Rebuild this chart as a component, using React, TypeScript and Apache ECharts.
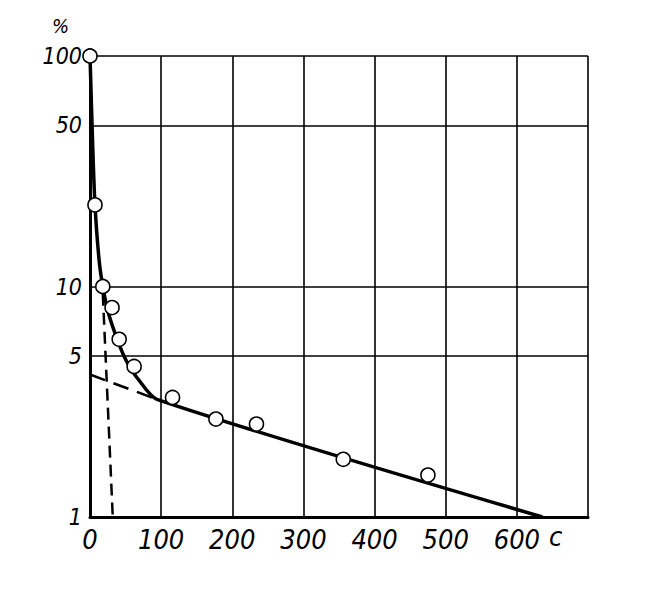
import React, { useEffect, useRef } from "react";
import * as echarts from "echarts";

// measured points (circles)
const pointX = [0, 7, 18, 31, 41, 62, 116, 177, 234, 356, 475];
const pointY = [100, 22.6, 10, 8.1, 5.9, 4.5, 3.3, 2.66, 2.53, 1.78, 1.52];

// solid fitted curve
const curveX = [0, 4, 7, 12.7, 18, 25.7, 42, 52, 68, 94, 636];
const curveY = [100, 39, 22.6, 13.1, 10, 7.7, 5.5, 4.7, 3.95, 3.24, 1];

// dashed fast component
const fastX = [18, 32];
const fastY = [9.3, 1];

// dashed extrapolation of slow component
const slowX = [0, 94];
const slowY = [4.15, 3.24];

// extra horizontal grid levels (besides 1, 10, 100)
const extraLevels = [5, 50];

const xMin = 0;
const xMax = 700;
const xStep = 100;
const yMin = 1;
const yMax = 100;
const xUnit = "c";
const yUnit = "%";

const FONT = '"Liberation Sans Narrow", "DejaVu Sans Condensed", "Liberation Sans", sans-serif';

const zip = (xs: number[], ys: number[]) => xs.map((x, i) => [x, ys[i]]);

export default function App() {
  const ref = useRef<HTMLDivElement>(null);
  useEffect(() => {
    if (!ref.current) return;
    const chart = echarts.init(ref.current, null, { renderer: "svg" });
    chart.setOption({
      animation: false,
      backgroundColor: "#ffffff",
      grid: { left: 90, right: 64, top: 56, bottom: 97 },
      xAxis: {
        type: "value",
        min: xMin,
        max: xMax,
        interval: xStep,
        axisLine: { show: true, lineStyle: { color: "#000", width: 3 } },
        axisTick: { show: false },
        splitLine: { show: true, lineStyle: { color: "#000", width: 1.6 } },
        axisLabel: {
          margin: 9,
          fontFamily: FONT,
          fontStyle: "italic",
          fontSize: 27,
          color: "#000",
          formatter: (v: number) => (v === xMax ? "" : String(v)),
        },
      },
      yAxis: {
        type: "log",
        logBase: 10,
        min: yMin,
        max: yMax,
        axisLine: { show: true, lineStyle: { color: "#000", width: 3 } },
        axisTick: { show: false },
        minorTick: { show: false },
        splitLine: { show: true, lineStyle: { color: "#000", width: 1.6 } },
        axisLabel: {
          margin: 8,
          fontFamily: FONT,
          fontStyle: "italic",
          fontSize: 23,
          color: "#000",
        },
      },
      graphic: [
        {
          type: "text",
          left: 52,
          top: 16,
          style: {
            text: yUnit,
            fontFamily: FONT,
            fontStyle: "italic",
            fontSize: 20,
            fill: "#000",
          },
        },
        {
          type: "text",
          left: 549,
          top: 523,
          style: {
            text: xUnit,
            fontFamily: FONT,
            fontStyle: "italic",
            fontSize: 27,
            fill: "#000",
          },
        },
      ],
      series: [
        {
          type: "line",
          data: zip(fastX, fastY),
          symbol: "none",
          lineStyle: { color: "#000", width: 2.5, type: [12, 7] },
          z: 3,
        },
        {
          type: "line",
          data: zip(slowX, slowY),
          symbol: "none",
          lineStyle: { color: "#000", width: 2.5, type: [16, 9] },
          z: 3,
        },
        {
          type: "line",
          data: zip(curveX, curveY),
          symbol: "none",
          smooth: 0.25,
          lineStyle: { color: "#000", width: 3.5 },
          z: 4,
          markLine: {
            silent: true,
            symbol: "none",
            lineStyle: { color: "#000", width: 1.6, type: "solid" },
            label: {
              show: true,
              position: "start",
              distance: 8,
              fontFamily: FONT,
              fontStyle: "italic",
              fontSize: 23,
              color: "#000",
              formatter: (p: any) => String(p.value),
            },
            data: extraLevels.map((v) => ({ yAxis: v })),
          },
        },
        {
          type: "scatter",
          data: zip(pointX, pointY),
          symbol: "circle",
          symbolSize: 14,
          itemStyle: { color: "#fff", opacity: 1, borderColor: "#000", borderWidth: 1.6 },
          z: 5,
        },
      ],
    });
    return () => chart.dispose();
  }, []);
  return (
    <div
      ref={ref}
      style={{ position: "fixed", left: 0, top: 0, width: 652, height: 614 }}
    />
  );
}
